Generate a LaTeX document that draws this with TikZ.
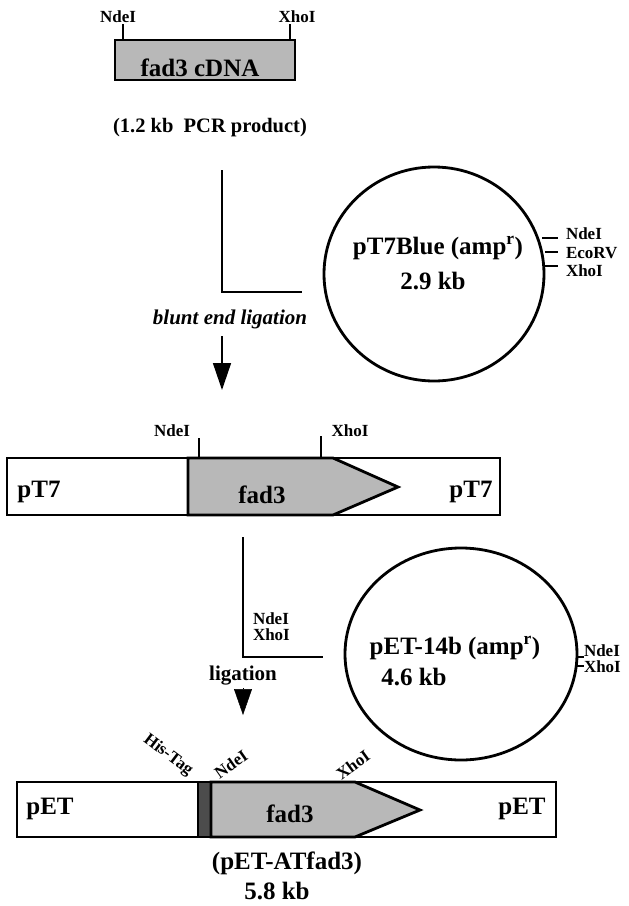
\documentclass[tikz,border=0pt]{standalone}
\usepackage{fontspec}
\setmainfont{Liberation Serif}
\usetikzlibrary{shapes.geometric,arrows.meta}
\definecolor{shade}{gray}{0.72}
\definecolor{histag}{gray}{0.3}
\begin{document}
\begin{tikzpicture}[x=1pt,y=-1pt,
  every node/.style={inner sep=0pt, outer sep=0pt},
  lbl/.style={font=\bfseries\fontsize{17}{19}\selectfont},
  big/.style={font=\bfseries\fontsize{25}{28}\selectfont},
  mid/.style={font=\bfseries\fontsize{20.5}{23}\selectfont},
  thickline/.style={line width=2.8pt},
  thinline/.style={line width=1.3pt},
  lline/.style={line width=1.6pt},
  tick/.style={line width=1.2pt},
  insert/.style={thickline, fill=shade, line join=miter},
  arrowtip/.style={line width=1.5pt, -{Triangle[width=18pt,length=27pt]}}
]
\useasboundingbox (0,0) rectangle (629,906);

% ---------- top PCR product ----------
\node[draw, thickline, fill=shade, minimum width=180pt, minimum height=40pt, anchor=north west] (cdna) at (115,40) {};
\node[big, anchor=base] (cdnatxt) at (200,76) {fad3 cDNA};
\node[lbl] (ndeA) at (118,17) {NdeI};
\node[lbl] (xhoA) at (297,17) {XhoI};
\coordinate (tA1) at (123,24);
\coordinate (tA2) at (290,24);
\draw[tick] (tA1) -- (tA1 |- cdna.north);
\draw[tick] (tA2) -- (tA2 |- cdna.north);
\node[mid, anchor=base] (pcr) at (210,132) {(1.2 kb\ \ PCR product)};

% ---------- first ligation ----------
\coordinate (L1top) at (222,170);
\coordinate (L1corner) at (222,292);
\coordinate (L1end) at (302,292);
\draw[lline] (L1top) -- (L1corner) -- (L1end);
\node[font=\bfseries\itshape\fontsize{21}{24}\selectfont, anchor=base] (blunt) at (230,324) {blunt end ligation};
\coordinate (a1s) at (222,336);
\coordinate (a1e) at (222,390);
\draw[arrowtip] (a1s) -- (a1e);

% ---------- pT7Blue circle ----------
\node[draw, thickline, ellipse, minimum width=220pt, minimum height=214pt] (c1) at (434,274) {};
\node[big] (c1name) at (438,248) {pT7Blue (amp\textsuperscript{r})};
\node[big] (c1size) at (433,281) {2.9 kb};
\node[lbl, anchor=west] (c1nde) at (566,234) {NdeI};
\node[lbl, anchor=west] (c1eco) at (566,253) {EcoRV};
\node[lbl, anchor=west] (c1xho) at (566,271) {XhoI};
\coordinate (c1t1) at (542,238);
\coordinate (c1t2) at (545,252);
\coordinate (c1t3) at (544,266);
\draw[tick] (c1t1) -- ++(16,0);
\draw[tick] (c1t2) -- ++(13,0);
\draw[tick] (c1t3) -- ++(14,0);

% ---------- pT7-fad3 construct ----------
\node[draw, thinline, minimum width=493pt, minimum height=57pt, anchor=north west] (bar1) at (7,458) {};
\draw[insert] (188,458) -- (333,458) -- (398,487) -- (333,515) -- (188,515) -- cycle;
\node[big, anchor=base] (b1l) at (39,497) {pT7};
\node[big, anchor=base] (b1r) at (471,497) {pT7};
\node[big, anchor=base] (b1fad) at (262,503) {fad3};
\node[lbl] (b1nde) at (172,431) {NdeI};
\node[lbl] (b1xho) at (350,431) {XhoI};
\coordinate (b1t1) at (199,438);
\coordinate (b1t2) at (321,436);
\draw[tick] (b1t1) -- (b1t1 |- bar1.north);
\draw[tick] (b1t2) -- (b1t2 |- bar1.north);

% ---------- second ligation ----------
\coordinate (L2top) at (243,537);
\coordinate (L2corner) at (243,657);
\coordinate (L2end) at (323,657);
\draw[lline] (L2top) -- (L2corner) -- (L2end);
\node[lbl, anchor=west] (L2nde) at (253,619) {NdeI};
\node[lbl, anchor=west] (L2xho) at (253,635) {XhoI};
\node[font=\bfseries\fontsize{21}{24}\selectfont, anchor=base] (lig) at (243,680) {ligation};
\coordinate (a2s) at (243,688);
\coordinate (a2e) at (243,715);
\draw[line width=0.5pt, -{Triangle[width=18pt,length=26pt]}] (a2s) -- (a2e);

% ---------- pET-14b circle ----------
\node[draw, thickline, ellipse, minimum width=232pt, minimum height=212pt] (c2) at (461,654) {};
\node[big] (c2name) at (455,648) {pET-14b (amp\textsuperscript{r})};
\node[big] (c2size) at (414,677) {4.6 kb};
\node[lbl, anchor=west] (c2nde) at (584,651) {NdeI};
\node[lbl, anchor=west] (c2xho) at (584,667) {XhoI};
\coordinate (c2t1) at (576,657);
\coordinate (c2t2) at (576,666);
\draw[tick] (c2t1) -- (c2nde.west |- c2t1);
\draw[tick] (c2t2) -- (c2xho.west |- c2t2);

% ---------- final construct ----------
\node[draw, thinline, minimum width=539pt, minimum height=55pt, anchor=north west] (bar2) at (17,782) {};
\draw[thickline, fill=histag] (198,782) rectangle (211,837);
\draw[insert] (211,782) -- (355,782) -- (420,810) -- (355,837) -- (211,837) -- cycle;
\node[big, anchor=base] (b2l) at (50,814) {pET};
\node[big, anchor=base] (b2r) at (522,814) {pET};
\node[big, anchor=base] (b2fad) at (290,822) {fad3};
\node[lbl, rotate=-37] (his) at (168,755) {His-Tag};
\node[lbl, rotate=35] (b2nde) at (231,764) {NdeI};
\node[lbl, rotate=36] (b2xho) at (353,765) {XhoI};
\node[big, anchor=base] (fin) at (287,869) {(pET-ATfad3)};
\node[big, anchor=base] (finsize) at (277,899) {5.8 kb};
\end{tikzpicture}
\end{document}
